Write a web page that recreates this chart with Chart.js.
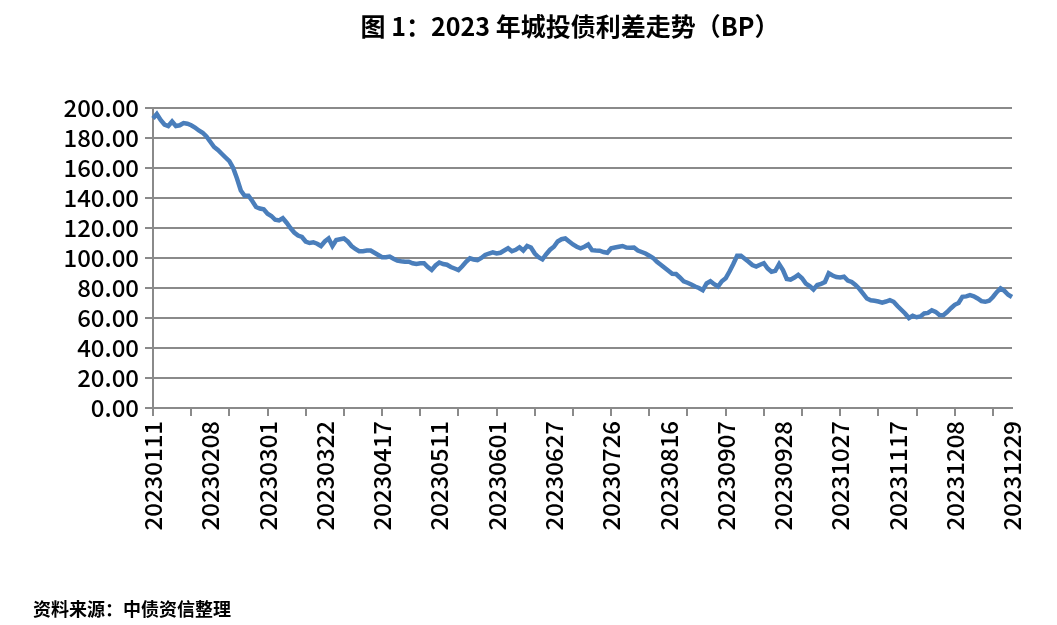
<!DOCTYPE html>
<html>
<head>
<meta charset="utf-8">
<script src="https://cdn.jsdelivr.net/npm/chart.js@4.4.0/dist/chart.umd.min.js"></script>
<style>
    body { margin: 0; background: #fff; }
    #wrap { position: relative; width: 1057px; height: 625px; }
    #title { position: absolute; left: 0; width: 1140px; top: 7px; text-align: center;
        font-family: "Noto Sans CJK SC", sans-serif; font-weight: bold; font-size: 25px; color: #000; }
    #source { position: absolute; left: 33px; top: 595px;
        font-family: "Noto Sans CJK SC", sans-serif; font-weight: bold; font-size: 18px; color: #000; }
    canvas { position: absolute; left: 0; top: 0; }
</style>
</head>
<body>
<div id="wrap">
    <canvas id="chart" width="1057" height="625"></canvas>
    <div id="title">图 1：2023 年城投债利差走势（BP）</div>
    <div id="source">资料来源：中债资信整理</div>
</div>
<script>
// labels shown on the date axis, one every 15 trading days
const tickLabels = ['20230111', '20230208', '20230301', '20230322', '20230417', '20230511',
    '20230601', '20230627', '20230726', '20230816', '20230907', '20230928',
    '20231027', '20231117', '20231208', '20231229'];

// spread (BP), one value per trading day
const spread = [
    193, 196, 192, 189, 188, 191, 188, 188.5, 190, 189.5,
    188.5, 187, 185, 183.5, 181, 177.5, 174, 172, 169.5, 167,
    164.5, 160, 153, 145, 141.5, 141.5, 138, 134, 133, 132.5,
    129.5, 128, 125.5, 125, 126.5, 123.5, 120, 117, 115, 114,
    111, 110, 110.5, 109.5, 108, 111, 113, 108, 112, 112.5,
    113, 111, 108, 106, 104.5, 104.5, 105, 105, 103.5, 102,
    100.5, 100.5, 101, 99.5, 98.2, 97.8, 97.5, 97.5, 96.5, 96,
    96.5, 96.5, 94, 92, 95, 97, 96, 95.5, 94, 93,
    92, 94.5, 97.5, 99.8, 99, 98.5, 100, 102, 103, 103.8,
    103, 103.5, 105, 106.5, 104.5, 105.5, 107.2, 105, 108, 107,
    103, 100.5, 99.1, 102.5, 105.5, 107.5, 111, 112.5, 113, 111,
    109, 107.5, 106.5, 107.5, 109, 105.2, 105, 104.9, 104, 103.5,
    106.5, 107, 107.5, 108, 107, 106.8, 107, 105, 104, 103,
    101.5, 100, 97.5, 95.5, 93.5, 91.5, 89.5, 89.3, 87, 84.5,
    83.5, 82.3, 81, 80, 78.5, 83, 84.5, 82.5, 81, 84.5,
    86.5, 91, 96, 101.5, 101.5, 99.5, 97.5, 95.3, 94.3, 95.5,
    96.5, 93, 90.8, 91.5, 96, 92, 86, 85.5, 87, 88.8,
    86.5, 83, 81.3, 79, 82, 82.8, 84, 89.8, 88.3, 87.3,
    87, 87.5, 85, 84, 82, 79.5, 76.3, 73, 71.8, 71.5,
    71, 70.3, 71, 71.9, 70.8, 68, 65.5, 63, 60, 61.5,
    60.5, 61, 63, 63.4, 65.2, 64.1, 62, 61.9, 64, 66.5,
    68.8, 70, 74.1, 74.4, 75.2, 74.5, 73, 71.2, 70.8, 71.5,
    74, 77.2, 79.7, 78.1, 75.5, 74
];

// category labels: a date every 15th point, blanks between
const categories = spread.map((v, i) => i % 15 === 0 ? tickLabels[i / 15] : '');

const axisFont = { family: '"Noto Sans CJK SC", sans-serif', size: 24, weight: 500 };
const gridGray = '#8a8a8a';

new Chart(document.getElementById('chart').getContext('2d'), {
    type: 'line',
    data: {
        labels: categories,
        datasets: [{
            label: '城投债利差',
            data: spread,
            borderColor: '#4a7ebb',
            borderWidth: 4.5,
            pointRadius: 0,
            tension: 0,
            fill: false
        }]
    },
    options: {
        responsive: false,
        animation: false,
        layout: {
            padding: { left: 0, right: 45, top: 108, bottom: 0 }
        },
        plugins: {
            legend: { display: false },
            tooltip: { enabled: false }
        },
        scales: {
            x: {
                offset: false,
                afterFit: (scale) => { scale.height = 217; },
                border: { color: gridGray, width: 2 },
                grid: {
                    drawOnChartArea: false,
                    drawTicks: true,
                    tickLength: 8,
                    lineWidth: 2,
                    tickColor: (ctx) => ctx.index % 10 === 0 ? gridGray : 'rgba(0,0,0,0)'
                },
                ticks: {
                    autoSkip: false,
                    minRotation: 90,
                    maxRotation: 90,
                    padding: 5,
                    color: '#000',
                    font: axisFont
                }
            },
            y: {
                min: 0,
                max: 200,
                afterFit: (scale) => { scale.width = 153; },
                border: { color: gridGray, width: 2 },
                grid: {
                    color: gridGray,
                    lineWidth: 2,
                    tickLength: 8
                },
                ticks: {
                    stepSize: 20,
                    autoSkip: false,
                    padding: 6,
                    color: '#000',
                    font: axisFont,
                    callback: (v) => v.toFixed(2)
                }
            }
        }
    }
});
</script>
</body>
</html>
